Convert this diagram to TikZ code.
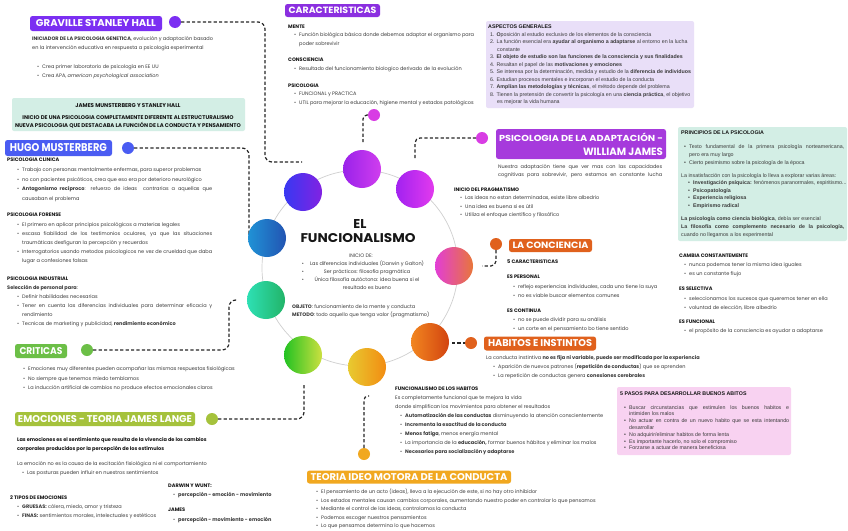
\documentclass[tikz,border=0pt]{standalone}
\usepackage{fontspec}
\usepackage{graphicx}
\setmainfont{Poppins}
\newfontfamily\arf{Liberation Sans}
\definecolor{txt}{HTML}{3A3A3A}
\definecolor{hdc}{HTML}{161616}
\definecolor{cGra}{HTML}{7B2FF2}
\definecolor{cCar}{HTML}{8B2FE0}
\definecolor{cHug}{HTML}{4A5CF2}
\definecolor{cAda}{HTML}{A63ADC}
\definecolor{cOra}{HTML}{E0611D}
\definecolor{cCri}{HTML}{6CBF47}
\definecolor{cEmo}{HTML}{A5C23C}
\definecolor{cTeo}{HTML}{F1A820}
\definecolor{cMag}{HTML}{D83DE4}
\definecolor{mint}{HTML}{D3EEE5}
\definecolor{lav}{HTML}{E9DFF8}
\definecolor{pinkb}{HTML}{F8D2F1}
\definecolor{ringc}{HTML}{CFCFCF}
\definecolor{g1a}{HTML}{9A22EA}\definecolor{g1b}{HTML}{D03EEE}
\definecolor{g2a}{HTML}{A222F0}\definecolor{g2b}{HTML}{E23AEE}
\definecolor{g3a}{HTML}{3838F2}\definecolor{g3b}{HTML}{8222E2}
\definecolor{g4a}{HTML}{2092D6}\definecolor{g4b}{HTML}{2254B2}
\definecolor{g5a}{HTML}{E23ED6}\definecolor{g5b}{HTML}{E8763A}
\definecolor{g6a}{HTML}{2EE0B4}\definecolor{g6b}{HTML}{22B468}
\definecolor{g7a}{HTML}{22C222}\definecolor{g7b}{HTML}{CCE040}
\definecolor{g8a}{HTML}{E8CA30}\definecolor{g8b}{HTML}{F28C12}
\definecolor{g9a}{HTML}{F28620}\definecolor{g9b}{HTML}{D24410}
\newcommand\bul{\makebox[5pt][l]{•}}
\newcommand\ind{\hspace*{5pt}}
\newcommand\jline[2]{\makebox[#1][s]{#2}}
\begin{document}
\begin{tikzpicture}[x=1pt,y=-1pt,
 tx/.style={inner sep=0pt, anchor=base west, align=left, text=txt, font=\fontsize{5}{#1}\selectfont},
 tx/.default=9,
 ta/.style={inner sep=0pt, anchor=base west, align=left, text=txt, font=\arf\fontsize{5.3}{#1}\selectfont},
 ta/.default=7.5,
 tah/.style={inner sep=0pt, anchor=base west, text=hdc, font=\arf\fontsize{5.3}{6}\selectfont\bfseries},
 hd/.style={inner sep=0pt, anchor=base west, text=hdc, font=\fontsize{5}{6}\selectfont\bfseries},
 ttl/.style={fill=#1, rounded corners=2.5pt, text=white, inner sep=0pt, font=\bfseries},
 dot/.style={circle, fill=#1, inner sep=0pt, minimum size=12pt},
 big/.style={circle, inner sep=0pt, minimum size=#1},
 conn/.style={draw=black!85, line width=1.2pt, dash pattern=on 3.2pt off 2.2pt, rounded corners=7pt},
 pbox/.style={rounded corners=2pt, fill=#1},
]
\fill[white] (0,0) rectangle (848,530);
\useasboundingbox (0,0) rectangle (848,530);

% ---------- boxes ----------
\fill[pbox=mint] (12,98) rectangle (245,131);
\fill[pbox=lav] (486,21) rectangle (694,108);
\fill[pbox=mint] (678,127) rectangle (847,241);
\fill[pbox=pinkb] (617,387) rectangle (791,455);

% ---------- ring ----------
\coordinate (ctr) at (360,268);
\draw[ringc, line width=0.7pt] (ctr) circle (98);

% ---------- small dots ----------
\node[dot=cGra] (dGra) at (175,22) {};
\node[dot=cMag] (dCar) at (374,115) {};
\node[dot=cHug] (dHug) at (128,148) {};
\node[dot=cMag] (dAda) at (482,138) {};
\node[dot=cOra] (dCon) at (496,244) {};
\node[dot=cOra] (dHab) at (471,343) {};
\node[dot=cCri] (dCri) at (87,350) {};
\node[dot=cEmo] (dEmo) at (212,419) {};
\node[dot=cTeo] (dTeo) at (364,454) {};

% ---------- connectors ----------
\coordinate (eGra) at (302,162);
\draw[conn] (dGra.east) -- (265,22) -- (265,162) -- (eGra);
\coordinate (eCar) at (363,142);
\draw[conn, rounded corners=4pt] (dCar.west) -- (363,115) -- (eCar);
\coordinate (eHug) at (249,238);
\draw[conn] (dHug.east) -- (249,148) -- (eHug);
\coordinate (eAda) at (415,158);
\draw[conn, rounded corners=5pt] (eAda) -- (415,138) -- (dAda.west);
\coordinate (eCon) at (482,266);
\draw[conn, rounded corners=5pt] (dCon.south) -- (496,266) -- (eCon);
\coordinate (eHab) at (452,343);
\draw[conn] (eHab) -- (dHab.west);
\coordinate (eCri) at (238,300);
\draw[conn] (dCri.east) -- (229,350) -- (229,300) -- (eCri);
\coordinate (eEmo) at (304,385);
\draw[conn] (dEmo.east) -- (304,419) -- (eEmo);
\coordinate (eTeo) at (369,396);
\draw[conn, rounded corners=4pt] (dTeo.north) -- (364,396) -- (eTeo);

% ---------- big circles ----------
\node[big=38pt, left color=g1a, right color=g1b] (c1) at (362,169) {};
\node[big=38pt, left color=g2a, right color=g2b] (c2) at (415,189) {};
\node[big=38pt, left color=g3a, right color=g3b] (c3) at (303,192) {};
\node[big=38pt, left color=g4a, right color=g4b] (c4) at (267,238) {};
\node[big=38pt, left color=g5a, right color=g5b] (c5) at (454,266) {};
\node[big=38pt, left color=g6a, right color=g6b] (c6) at (266,300) {};
\node[big=38pt, left color=g7a, right color=g7b] (c7) at (303,355) {};
\node[big=38pt, left color=g8a, right color=g8b] (c8) at (367,367) {};
\node[big=38pt, left color=g9a, right color=g9b] (c9) at (430,342) {};

% ---------- titles ----------
\node[ttl=cGra, minimum width=132pt, minimum height=15pt] (tGra) at (96,23.5) {\resizebox{120pt}{7pt}{GRAVILLE STANLEY HALL}};
\node[ttl=cCar, minimum width=95pt, minimum height=13pt] (tCar) at (332.5,10.5) {\resizebox{88pt}{6.5pt}{CARACTERISTICAS}};
\node[ttl=cHug, minimum width=107pt, minimum height=16pt] (tHug) at (58.5,148) {\resizebox{97pt}{8pt}{HUGO MUSTERBERG}};
\node[ttl=cAda, minimum width=170pt, minimum height=30pt, align=right, font=\bfseries\fontsize{8}{14}\selectfont] (tAda) at (581,144) {\resizebox{164pt}{8.5pt}{PSICOLOGIA DE LA ADAPTACIÓN -}\\\resizebox{80pt}{7.5pt}{WILLIAM JAMES}};
\node[ttl=cOra, minimum width=83pt, minimum height=13pt] (tCon) at (550.5,245.5) {\resizebox{76pt}{6.5pt}{LA CONCIENCIA}};
\node[ttl=cOra, minimum width=112pt, minimum height=14pt] (tHab) at (540,343.5) {\resizebox{104pt}{7pt}{HABITOS E INSTINTOS}};
\node[ttl=cCri, minimum width=52pt, minimum height=14pt] (tCri) at (41,351) {\resizebox{43pt}{7pt}{CRITICAS}};
\node[ttl=cEmo, minimum width=180pt, minimum height=14pt] (tEmo) at (105,419) {\resizebox{174pt}{7pt}{EMOCIONES - TEORIA JAMES LANGE}};
\node[ttl=cTeo, minimum width=204pt, minimum height=13pt] (tTeo) at (409,477) {\resizebox{197pt}{7pt}{TEORIA IDEO MOTORA DE LA CONDUCTA}};

% ---------- center ----------
\node[inner sep=0pt, text=hdc, font=\bfseries] (cEL) at (360,224) {\resizebox{!}{9pt}{EL}};
\node[inner sep=0pt, text=hdc, font=\bfseries] (cFun) at (358,238) {\resizebox{115pt}{9pt}{FUNCIONALISMO}};
\node[inner sep=0pt, anchor=base, text=txt, font=\fontsize{5}{6}\selectfont] (cIni) at (361,257.5) {INICIO DE:};
\node[inner sep=0pt, anchor=base, align=center, text=txt, font=\fontsize{5}{8}\selectfont] (cList) at (367,289.5) {Las diferencias individuales (Darwin y Galton)\\Ser prácticos: filosofía pragmática\\Única filosofía autóctona: idea buena si el\\resultado es bueno};
\node[inner sep=0pt, anchor=base, align=center, text=txt, font=\fontsize{5}{8}\selectfont] (cBul) at (303,281.5) {•\\•\\•};
\node[tx] (cObj) at (292,308.5) {\textbf{OBJETO}: funcionamiento de la mente y conducta};
\node[tx] (cMet) at (292,316.5) {\textbf{METODO}: todo aquello que tenga valor (pragmatismo)};

% ---------- Graville ----------
\node[tx] (g1) at (32,49.5) {\textbf{INICIADOR DE LA PSICOLOGIA GENETICA}, evolución y adaptación basado\\en la intervención educativa en respuesta a psicología experimental};
\node[tx] (g2) at (37,77.5) {\bul Crea primer laboratorio de psicología en EE UU\\\bul Crea APA, \textit{american psychological association}};

% ---------- James Munsterberg box ----------
\node[inner sep=0pt, anchor=base, text=hdc, font=\fontsize{5.5}{6}\selectfont\bfseries] (jm1) at (128,107) {JAMES MUNSTERBERG Y STANLEY HALL};
\node[inner sep=0pt, anchor=base, align=center, text=hdc, font=\fontsize{5.4}{8}\selectfont\bfseries] (jm2) at (128,127.5) {INICIO DE UNA PSICOLOGIA COMPLETAMENTE DIFERENTE AL ESTRUCTURALISMO\\NUEVA PSICOLOGIA QUE DESTACABA LA FUNCIÓN DE LA CONDUCTA Y PENSAMIENTO};

% ---------- Hugo ----------
\node[hd] (h1) at (7,161.5) {PSICOLOGIA CLINICA};
\node[tx=9.6] (h2) at (17,200.3) {\bul Trabajo con personas mentalmente enfermas, para superor problemas\\\bul no con pacientes psicóticos, crea que eso era por deterioro neurológico\\\bul\jline{190pt}{\textbf{Antagonismo recíproco}: refuerzo de ideas \ contrarias a aquellas que}\\\ind causaban el problema};
\node[hd] (h3) at (7,216.5) {PSICOLOGIA FORENSE};
\node[tx=8.9] (h4) at (17,262.1) {\bul El primero en aplicar principios psicológicos a materias legales\\\bul\jline{190pt}{escasa fiabilidad de los testimonios oculares, ya que las situaciones}\\\ind traumáticas desfiguran la percepción y recuerdos\\\bul\jline{190pt}{Interrogatorios usando metodos psicologicos ne vez de crueldad que daba}\\\ind lugar a confesiones falsas};
\node[hd] (h5) at (7,280.5) {PSICOLOGIA INDUSTRIAL};
\node[tx] (h6) at (7,289) {\textbf{Selección de personal para}:};
\node[tx=9] (h7) at (17,325.5) {\bul Definir habilidades necesarias\\\bul\jline{190pt}{Tener en cuenta las diferencias individuales para determinar eficacia y}\\\ind rendimiento\\\bul Tecnicas de marketing y publicidad, \textbf{rendimiento económico}};

% ---------- Criticas ----------
\node[tx=9.5] (k1) at (23,389.5) {\bul Emociones muy diferentes pueden acompañar las mismas respuestas fisiológicas\\\bul No siempre que tenemos miedo temblamos\\\bul La inducción artificial de cambios no produce efectos emocionales claros};

% ---------- Emociones ----------
\node[tx, text=hdc] (e1) at (17,450.5) {\textbf{Las emociones es el sentimiento que resulta de la vivencia de los cambios}\\\textbf{corporales producidos por la percepción de los estímulos}};
\node[tx] (e2) at (17,465.5) {La emoción no es la causa de la excitación fisiológica ni el comportamiento};
\node[tx] (e3) at (22,474.5) {\bul Las posturas pueden influir en nuestros sentimientos};
\node[hd] (e4) at (10,499.5) {2 TIPOS DE EMOCIONES};
\node[tx] (e5) at (17,517.5) {\bul \textbf{GRUESAS:} cólera, miedo, amor y tristeza\\\bul \textbf{FINAS:} sentimientos morales, intelectuales y estéticos};
\node[hd] (e6) at (168,487.5) {DARWIN Y WUNT:};
\node[tx] (e7) at (173,496.5) {\bul \textbf{percepción - emoción - movimiento}};
\node[hd] (e8) at (168,511.5) {JAMES};
\node[tx] (e9) at (173,521) {\bul \textbf{percepción - movimiento - emoción}};

% ---------- Caracteristicas ----------
\node[hd] (r1) at (288,28) {MENTE};
\node[tx] (r2) at (294,45) {\bul Función biológica básica donde debemos adaptar el organismo para\\\ind poder sobrevivir};
\node[hd] (r3) at (288,61.5) {CONSCIENCIA};
\node[tx] (r4) at (294,70.5) {\bul Resultado del funcionamiento biologico derivado de la evolución};
\node[hd] (r5) at (288,87.5) {PSICOLOGIA};
\node[tx] (r6) at (294,104.5) {\bul FUNCIONAL y PRACTICA\\\bul UTIL para mejorar la educación, higiene mental y estados patológicos};

% ---------- Aspectos generales ----------
\node[tah] (a1) at (488,28.5) {ASPECTOS GENERALES};
\node[ta=7.45] (a2) at (490,103.55) {1. \textbf{O}posición al estudio exclusivo de los elementos de la consciencia\\
2. La función esencial era \textbf{ayudar al organismo a adaptarse} al entorno en la lucha\\
\hspace*{7pt}constante\\
3. \textbf{El objeto de estudio son las funciones de la consciencia y sus finalidades}\\
4. Resaltan el papel de las \textbf{motivaciones y emociones}\\
5. Se interesa por la determinación, medida y estudio de la \textbf{diferencia de individuos}\\
6. Estudian procesos mentales e incorporan el estudio de la conducta\\
7. \textbf{Amplían las metodologías y técnicas}, el método depende del problema\\
8. Tienen la pretensión de convertir la psicología en una \textbf{ciencia práctica}, el objetivo\\
\hspace*{7pt}es mejorar la vida humana};

% ---------- Adaptacion ----------
\node[tx=8] (p1) at (498,176.5) {\jline{164pt}{Nuestra adaptación tiene que ver mas con las capacidades}\\\jline{164pt}{cognitivas para sobrevivir, pero estamos en constante lucha}};
\node[hd] (p2) at (454,191.5) {INICIO DEL PRAGMATISMO};
\node[tx=8.5] (p3) at (460,216.5) {\bul Las ideas no estan determinadas, existe libre albedrio\\\bul Una idea es buena si es útil\\\bul Utiliza el enfoque científico y filosófico};

% ---------- Principios ----------
\node[tah] (q1) at (681,134.5) {PRINCIPIOS DE LA PSICOLOGIA};
\node[ta=8] (q2) at (684,164.5) {\bul\jline{155pt}{Texto fundamental de la primera psicología norteamericana,}\\\ind pero era muy largo\\\bul Cierto pesimismo sobre la psicología de la época};
\node[ta] (q3) at (681,177.5) {La insatisfacción con la psicología lo lleva a explorar varias áreas:};
\node[ta=7.7] (q4) at (688,207.6) {\bul \textbf{Investigación psíquica:} fenómenos paranormales, espiritismo...\\\bul \textbf{Psicopatología}\\\bul \textbf{Experiencia religiosa}\\\bul \textbf{Empirismo radical}};
\node[ta=8] (q5) at (681,236.5) {\textbf{La psicología como ciencia biológica}, debía ser esencial\\\jline{163pt}{\textbf{La filosofía como complemento necesario de la psicología,}}\\cuando no llegamos a los experimental};

% ---------- La conciencia ----------
\node[hd] (s1) at (507,263.5) {5 CARACTERISTICAS};
\node[hd] (s2) at (507,278.5) {ES PERSONAL};
\node[tx] (s3) at (513,297.5) {\bul reflejo experiencias individuales, cada uno tiene la suya\\\bul no es viable buscar elementos comunes};
\node[hd] (s4) at (507,312.5) {ES CONTINUA};
\node[tx=8.5] (s5) at (513,330) {\bul no se puede dividir para su análisis\\\bul un corte en el pensamiento bo tiene sentido};
\node[hd] (s6) at (679,257.5) {CAMBIA CONSTANTEMENTE};
\node[tx=8.5] (s7) at (684,275) {\bul nunca podemos tener la misma idea iguales\\\bul es un constante flujo};
\node[hd] (s8) at (679,290.5) {ES SELECTIVA};
\node[tx=8.5] (s9) at (684,309) {\bul seleccionamos los sucesos que queremos tener en ella\\\bul voluntad de elección, libre albedrío};
\node[hd] (s10) at (679,323.5) {ES FUNCIONAL};
\node[tx] (s11) at (684,332.5) {\bul el propósito de la consciencia es ayudar a adaptarse};

% ---------- Habitos ----------
\node[tx] (u1) at (486,359.5) {La conducta instintiva \textbf{no es fija ni variable, puede ser modificada por la experiencia}};
\node[tx] (u2) at (493,377.5) {\bul Aparición de nuevos patrones (\textbf{repetición de conductas}) que se aprenden\\\bul La repetición de conductas genera \textbf{conexiones cerebrales}};
\node[hd] (u3) at (395,390.5) {FUNCIONALISMO DE LOS HABITOS};
\node[tx] (u4) at (395,408.5) {Es completamente funcional que te mejora la vida\\donde simplifican los movimientos para obtener el resultados};
\node[tx] (u5) at (400,453.5) {\bul \textbf{Automatización de las conductas} disminuyendo la atención conscientemente\\
\bul \textbf{Incrementa la exactitud de la conducta}\\
\bul \textbf{Menos fatiga}, menos energía mental\\
\bul La importancia de la \textbf{educación,} formar buenos hábitos y eliminar los malos\\
\bul \textbf{Necesarios para socialización y adaptarse}};

% ---------- Pasos ----------
\node[tah] (v1) at (620,395.5) {5 PASOS PARA DESARROLLAR BUENOS ABITOS};
\node[ta=6.8] (v2) at (624,449.8) {\bul\jline{160pt}{Buscar circunstancias que estimulen los buenos habitos e}\\\ind intimiden los malos\\\bul\jline{160pt}{No actuar en contra de un nuevo habito que se esta intentando}\\\ind desarrollar\\\bul No adquirir/eliminar habitos de forma lenta\\\bul Es importante hacerlo, no solo el compromiso\\\bul Forzarse a actuar de manera beneficiosa};

% ---------- Teoria ideo motora ----------
\node[tx=8.5] (w1) at (316,527.5) {\bul El pensamiento de un acto (ideas), lleva a la ejecución de este, si no hay otro inhibidor\\
\bul Los estados mentales causan cambios corporales, aumentando nuestro poder en controlar lo que pensamos\\
\bul Mediante el control de las ideas, controlamos la conducta\\
\bul Podemos escoger nuestros pensamientos\\
\bul Lo que pensamos determina lo que hacemos};
\end{tikzpicture}
\end{document}
